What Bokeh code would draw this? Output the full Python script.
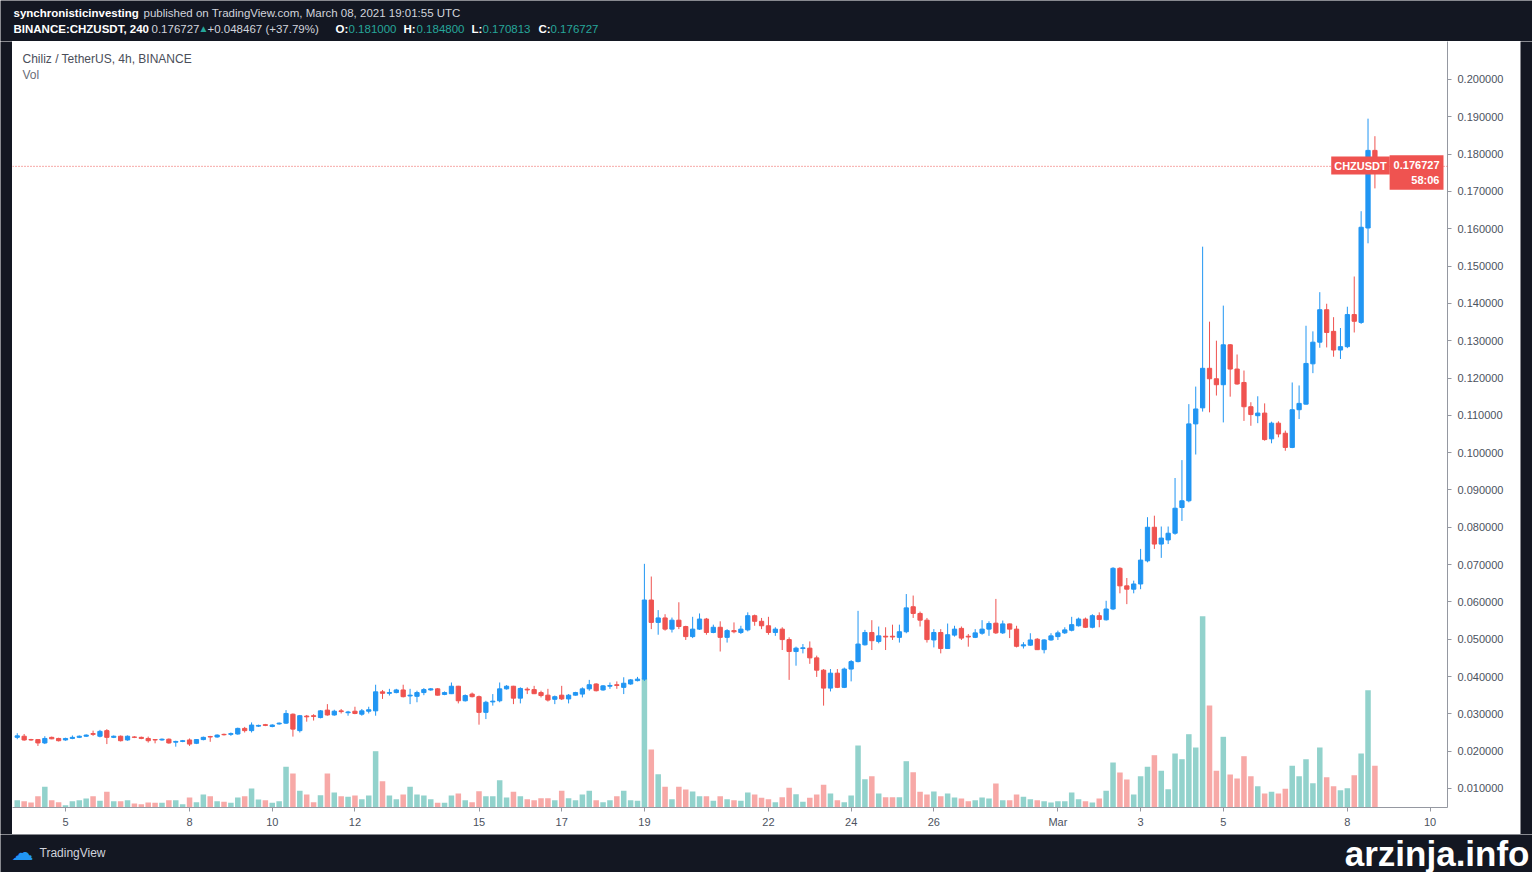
import pandas as pd
from bokeh.plotting import figure
from bokeh.layouts import column, row
from bokeh.models import ColumnDataSource, Range1d, FixedTicker, NumeralTickFormatter, Span, Label
from bokeh.core.properties import value
from bokeh.embed import file_html
from bokeh.resources import INLINE

# ---------------- data (CHZUSDT, 4h candles) ----------------
first_bar = "2021-02-03 20:00"

opens = [0.0237, 0.0240, 0.0231, 0.0231, 0.0222, 0.0237, 0.0234, 0.0230, 0.0234, 0.0237,
         0.0240, 0.0247, 0.0240, 0.0255, 0.0237, 0.0240, 0.0230, 0.0238, 0.0237, 0.0234,
         0.0231, 0.0230, 0.0232, 0.0224, 0.0226, 0.0230, 0.0221, 0.0231, 0.0239, 0.0238,
         0.0245, 0.0245, 0.0246, 0.0261, 0.0255, 0.0267, 0.0271, 0.0266, 0.0273, 0.0275,
         0.0299, 0.0255, 0.0294, 0.0295, 0.0290, 0.0310, 0.0297, 0.0308, 0.0303, 0.0307,
         0.0299, 0.0307, 0.0308, 0.0359, 0.0355, 0.0357, 0.0364, 0.0348, 0.0347, 0.0357,
         0.0364, 0.0367, 0.0352, 0.0354, 0.0374, 0.0335, 0.0353, 0.0346, 0.0304, 0.0332,
         0.0335, 0.0367, 0.0374, 0.0342, 0.0366, 0.0365, 0.0357, 0.0350, 0.0339, 0.0350,
         0.0340, 0.0350, 0.0353, 0.0367, 0.0380, 0.0364, 0.0374, 0.0378, 0.0371, 0.0380,
         0.0389, 0.0393, 0.0605, 0.0545, 0.0557, 0.0527, 0.0551, 0.0534, 0.0507, 0.0527,
         0.0554, 0.0518, 0.0532, 0.0505, 0.0523, 0.0518, 0.0525, 0.0563, 0.0548, 0.0536,
         0.0518, 0.0527, 0.0499, 0.0467, 0.0475, 0.0476, 0.0450, 0.0417, 0.0369, 0.0409,
         0.0371, 0.0420, 0.0440, 0.0485, 0.0518, 0.0494, 0.0508, 0.0508, 0.0505, 0.0520,
         0.0587, 0.0569, 0.0551, 0.0498, 0.0518, 0.0475, 0.0511, 0.0529, 0.0508, 0.0505,
         0.0516, 0.0527, 0.0543, 0.0517, 0.0541, 0.0527, 0.0482, 0.0484, 0.0500, 0.0472,
         0.0498, 0.0507, 0.0517, 0.0524, 0.0536, 0.0554, 0.0532, 0.0563, 0.0552, 0.0581,
         0.0690, 0.0643, 0.0634, 0.0648, 0.0710, 0.0800, 0.0755, 0.0766, 0.0784, 0.0853,
         0.0871, 0.1077, 0.1120, 0.1226, 0.1198, 0.1182, 0.1289, 0.1224, 0.1188, 0.1123,
         0.1099, 0.1106, 0.1037, 0.1079, 0.1052, 0.1014, 0.1115, 0.1130, 0.1238, 0.1296,
         0.1383, 0.1325, 0.1275, 0.1284, 0.1370, 0.1349, 0.1602, 0.181000]

highs = [0.0248, 0.0246, 0.0233, 0.0232, 0.0240, 0.0239, 0.0236, 0.0236, 0.0242, 0.0242,
         0.0245, 0.0255, 0.0257, 0.0259, 0.0242, 0.0242, 0.0242, 0.0240, 0.0239, 0.0239,
         0.0232, 0.0234, 0.0234, 0.0228, 0.0230, 0.0234, 0.0232, 0.0239, 0.0241, 0.0245,
         0.0247, 0.0250, 0.0263, 0.0265, 0.0277, 0.0271, 0.0273, 0.0272, 0.0277, 0.0310,
         0.0301, 0.0297, 0.0297, 0.0299, 0.0310, 0.0326, 0.0311, 0.0313, 0.0308, 0.0319,
         0.0313, 0.0319, 0.0378, 0.0364, 0.0367, 0.0367, 0.0378, 0.0367, 0.0362, 0.0369,
         0.0369, 0.0369, 0.0360, 0.0384, 0.0375, 0.0352, 0.0357, 0.0349, 0.0335, 0.0353,
         0.0384, 0.0377, 0.0375, 0.0371, 0.0371, 0.0375, 0.0362, 0.0367, 0.0349, 0.0375,
         0.0353, 0.0359, 0.0371, 0.0391, 0.0382, 0.0377, 0.0384, 0.0387, 0.0398, 0.0393,
         0.0399, 0.0702, 0.0668, 0.0578, 0.0567, 0.0558, 0.0599, 0.0536, 0.0560, 0.0569,
         0.0557, 0.0539, 0.0548, 0.0527, 0.0545, 0.0536, 0.0572, 0.0566, 0.0557, 0.0560,
         0.0532, 0.0532, 0.0505, 0.0480, 0.0487, 0.0494, 0.0456, 0.0420, 0.0420, 0.0420,
         0.0424, 0.0444, 0.0576, 0.0525, 0.0551, 0.0534, 0.0532, 0.0539, 0.0539, 0.0621,
         0.0617, 0.0574, 0.0557, 0.0527, 0.0527, 0.0542, 0.0536, 0.0534, 0.0514, 0.0527,
         0.0551, 0.0548, 0.0608, 0.0550, 0.0542, 0.0536, 0.0492, 0.0516, 0.0503, 0.0500,
         0.0516, 0.0523, 0.0532, 0.0560, 0.0558, 0.0558, 0.0567, 0.0572, 0.0603, 0.0693,
         0.0693, 0.0664, 0.0657, 0.0742, 0.0827, 0.0831, 0.0802, 0.0802, 0.0932, 0.0980,
         0.1130, 0.1177, 0.1552, 0.1351, 0.1300, 0.1394, 0.1291, 0.1263, 0.1220, 0.1135,
         0.1151, 0.1132, 0.1083, 0.1084, 0.1059, 0.1188, 0.1180, 0.1340, 0.1325, 0.1430,
         0.1399, 0.1363, 0.1334, 0.1391, 0.1472, 0.1647, 0.1895, 0.184800]

lows = [0.0232, 0.0228, 0.0228, 0.0214, 0.0219, 0.0232, 0.0226, 0.0228, 0.0232, 0.0235,
        0.0238, 0.0241, 0.0237, 0.0219, 0.0235, 0.0226, 0.0228, 0.0235, 0.0232, 0.0223,
        0.0221, 0.0228, 0.0220, 0.0212, 0.0224, 0.0214, 0.0219, 0.0229, 0.0225, 0.0236,
        0.0242, 0.0241, 0.0244, 0.0250, 0.0250, 0.0265, 0.0267, 0.0264, 0.0271, 0.0273,
        0.0239, 0.0250, 0.0279, 0.0282, 0.0288, 0.0295, 0.0295, 0.0301, 0.0295, 0.0299,
        0.0295, 0.0301, 0.0295, 0.0340, 0.0349, 0.0355, 0.0344, 0.0326, 0.0331, 0.0350,
        0.0362, 0.0349, 0.0350, 0.0353, 0.0328, 0.0333, 0.0344, 0.0271, 0.0286, 0.0322,
        0.0331, 0.0365, 0.0326, 0.0328, 0.0353, 0.0353, 0.0344, 0.0333, 0.0326, 0.0337,
        0.0328, 0.0349, 0.0344, 0.0362, 0.0360, 0.0362, 0.0367, 0.0367, 0.0353, 0.0378,
        0.0387, 0.0388, 0.0527, 0.0512, 0.0523, 0.0518, 0.0527, 0.0498, 0.0503, 0.0525,
        0.0512, 0.0516, 0.0467, 0.0491, 0.0516, 0.0514, 0.0521, 0.0536, 0.0527, 0.0512,
        0.0509, 0.0471, 0.0391, 0.0429, 0.0462, 0.0434, 0.0399, 0.0322, 0.0360, 0.0369,
        0.0369, 0.0387, 0.0438, 0.0483, 0.0471, 0.0489, 0.0471, 0.0498, 0.0491, 0.0516,
        0.0557, 0.0534, 0.0491, 0.0478, 0.0462, 0.0474, 0.0507, 0.0498, 0.0480, 0.0503,
        0.0512, 0.0509, 0.0514, 0.0514, 0.0503, 0.0478, 0.0475, 0.0482, 0.0471, 0.0462,
        0.0496, 0.0498, 0.0514, 0.0521, 0.0534, 0.0530, 0.0529, 0.0532, 0.0550, 0.0578,
        0.0623, 0.0594, 0.0623, 0.0634, 0.0706, 0.0742, 0.0718, 0.0755, 0.0780, 0.0817,
        0.0867, 0.0995, 0.1110, 0.1108, 0.1153, 0.1081, 0.1150, 0.1182, 0.1085, 0.1072,
        0.1079, 0.1032, 0.1025, 0.1041, 0.1005, 0.1012, 0.1090, 0.1129, 0.1213, 0.1281,
        0.1282, 0.1257, 0.1251, 0.1280, 0.1322, 0.1345, 0.1561, 0.170813]

closes = [0.0241, 0.0230, 0.0230, 0.0222, 0.0234, 0.0233, 0.0228, 0.0234, 0.0237, 0.0240,
          0.0243, 0.0245, 0.0253, 0.0237, 0.0240, 0.0228, 0.0240, 0.0237, 0.0234, 0.0228,
          0.0230, 0.0232, 0.0222, 0.0226, 0.0228, 0.0219, 0.0231, 0.0237, 0.0238, 0.0243,
          0.0244, 0.0247, 0.0261, 0.0255, 0.0270, 0.0269, 0.0269, 0.0270, 0.0275, 0.0301,
          0.0259, 0.0295, 0.0292, 0.0293, 0.0308, 0.0297, 0.0307, 0.0306, 0.0305, 0.0301,
          0.0308, 0.0311, 0.0359, 0.0355, 0.0357, 0.0364, 0.0346, 0.0350, 0.0357, 0.0365,
          0.0367, 0.0350, 0.0357, 0.0374, 0.0335, 0.0349, 0.0346, 0.0304, 0.0331, 0.0334,
          0.0367, 0.0374, 0.0342, 0.0368, 0.0364, 0.0354, 0.0349, 0.0337, 0.0346, 0.0340,
          0.0350, 0.0357, 0.0367, 0.0378, 0.0362, 0.0375, 0.0376, 0.0376, 0.0382, 0.0391,
          0.0393, 0.0605, 0.0545, 0.0557, 0.0527, 0.0551, 0.0534, 0.0507, 0.0527, 0.0554,
          0.0518, 0.0532, 0.0505, 0.0523, 0.0520, 0.0527, 0.0563, 0.0548, 0.0536, 0.0518,
          0.0527, 0.0499, 0.0467, 0.0476, 0.0477, 0.0450, 0.0417, 0.0369, 0.0409, 0.0371,
          0.0420, 0.0440, 0.0487, 0.0518, 0.0496, 0.0509, 0.0506, 0.0506, 0.0520, 0.0584,
          0.0569, 0.0551, 0.0499, 0.0518, 0.0475, 0.0512, 0.0527, 0.0503, 0.0506, 0.0517,
          0.0527, 0.0542, 0.0517, 0.0541, 0.0527, 0.0481, 0.0485, 0.0498, 0.0472, 0.0498,
          0.0509, 0.0517, 0.0525, 0.0539, 0.0554, 0.0532, 0.0563, 0.0553, 0.0581, 0.0690,
          0.0643, 0.0634, 0.0648, 0.0712, 0.0800, 0.0755, 0.0771, 0.0784, 0.0851, 0.0871,
          0.1077, 0.1117, 0.1226, 0.1198, 0.1182, 0.1289, 0.1224, 0.1184, 0.1123, 0.1102,
          0.1106, 0.1035, 0.1079, 0.1050, 0.1014, 0.1115, 0.1132, 0.1239, 0.1296, 0.1383,
          0.1322, 0.1275, 0.1284, 0.1370, 0.1352, 0.1604, 0.1810, 0.176727]

# volume, millions of CHZ per 4h bar (relative heights)
volumes = [7.3, 6.3, 5.0, 11.3, 20.7, 7.3, 5.3, 2.3, 6.3, 7.3,
           9.0, 11.3, 6.7, 15.7, 6.3, 6.3, 7.3, 4.0, 3.3, 5.0,
           4.7, 4.7, 7.3, 7.3, 3.3, 10.0, 5.3, 13.0, 11.3, 6.3,
           5.7, 4.7, 10.0, 11.3, 19.0, 8.0, 7.3, 4.7, 6.3, 40.7,
           34.0, 16.7, 13.0, 5.3, 12.3, 34.0, 15.0, 11.3, 10.7, 12.0,
           8.3, 12.0, 56.3, 26.3, 12.0, 8.3, 13.0, 20.7, 13.0, 12.0,
           8.3, 4.7, 4.7, 12.0, 14.0, 7.3, 5.3, 16.3, 11.3, 11.3,
           27.3, 10.0, 15.7, 11.3, 8.3, 7.3, 9.3, 9.3, 7.3, 16.7,
           9.3, 7.3, 13.0, 16.7, 7.3, 5.3, 7.3, 11.3, 16.7, 7.3,
           6.7, 129.0, 58.0, 33.3, 20.7, 8.3, 20.7, 18.0, 16.0, 11.3,
           11.3, 6.7, 11.3, 8.3, 7.3, 6.7, 15.0, 13.0, 9.7, 8.3,
           5.3, 10.3, 19.7, 13.3, 5.7, 9.7, 13.0, 22.7, 14.0, 7.3,
           5.3, 12.0, 62.0, 28.3, 31.3, 14.0, 10.3, 10.3, 10.3, 46.3,
           35.3, 15.7, 13.0, 16.0, 11.3, 14.0, 10.0, 9.0, 6.3, 7.3,
           10.0, 9.0, 24.0, 7.3, 7.3, 13.0, 10.7, 8.3, 7.3, 6.3,
           5.0, 6.3, 6.3, 15.0, 8.3, 6.3, 5.0, 9.0, 16.7, 45.0,
           35.0, 28.0, 13.0, 31.3, 40.7, 52.3, 36.7, 18.3, 54.0, 48.3,
           73.3, 60.0, 191.3, 102.0, 36.7, 70.7, 33.0, 29.0, 51.3, 31.3,
           21.3, 14.0, 15.7, 14.0, 18.7, 41.7, 31.3, 48.3, 24.3, 60.0,
           30.3, 21.3, 17.3, 19.3, 32.3, 54.0, 117.3, 41.7]

date_ticks = ["2021-02-05", "2021-02-08", "2021-02-10", "2021-02-12", "2021-02-15",
              "2021-02-17", "2021-02-19", "2021-02-22", "2021-02-24", "2021-02-26",
              "2021-03-01", "2021-03-03", "2021-03-05", "2021-03-08", "2021-03-10"]
date_labels = ["5", "8", "10", "12", "15", "17", "19", "22", "24", "26",
               "Mar", "3", "5", "8", "10"]
price_ticks = [0.01, 0.02, 0.03, 0.04, 0.05, 0.06, 0.07, 0.08, 0.09, 0.10,
               0.11, 0.12, 0.13, 0.14, 0.15, 0.16, 0.17, 0.18, 0.19, 0.20]
last_price = 0.176727

header_parts = [  # (text, kind) kinds: b = bold white, n = normal, t = teal
    ("synchronisticinvesting", "b"),
    ("published on TradingView.com, March 08, 2021 19:01:55 UTC", "n"),
    ("BINANCE:CHZUSDT, 240", "b"), ("0.176727", "n"), ("▲", "t"),
    ("+0.048467 (+37.79%)", "n"),
    ("O:", "b"), ("0.181000", "t"), ("H:", "b"), ("0.184800", "t"),
    ("L:", "b"), ("0.170813", "t"), ("C:", "b"), ("0.176727", "t"),
]

# ---------------- styling ----------------
UP, DOWN = "#2196f3", "#ef5350"
VOL_UP, VOL_DOWN = "#92d2cc", "#f7a9a7"
DARK = "#131722"
LIGHT = "#d1d4dc"
TEAL = "#26a69a"
FONT = "Liberation Sans"
PAGE_W = 1532
HEAD_H, MAIN_H, FOOT_H = 41, 793, 38
LEFT_W, RIGHT_W = 12, 12
MAIN_W = PAGE_W - LEFT_W - RIGHT_W


def no_align(fig):
    try:
        fig.frame_align = False
    except Exception:
        pass


def band(width, height):
    f = figure(width=width, height=height, x_range=Range1d(0, width),
               y_range=Range1d(height, 0), output_backend="svg", toolbar_location=None,
               x_axis_type=None, y_axis_type=None, min_border=0,
               background_fill_color=DARK, border_fill_color=DARK, outline_line_color=None)
    f.grid.visible = False
    no_align(f)
    return f


# ---------------- header ----------------
head = band(PAGE_W, HEAD_H)
head_x = [13, 143, 13, 151, 198, 207, 335, 348, 403, 416, 471, 482, 538, 550]
head_y = [12, 12, 28, 28, 28, 28, 28, 28, 28, 28, 28, 28, 28, 28]
for (txt, kind), hx, hy in zip(header_parts, head_x, head_y):
    head.text(x=[hx], y=[hy], text=[txt], text_font=value(FONT),
              text_font_size="10px" if txt == "▲" else "11.5px",
              text_font_style="bold" if kind == "b" else "normal",
              text_color={"b": "#ffffff", "n": LIGHT, "t": TEAL}[kind],
              text_baseline="middle", text_align="left")

# ---------------- main chart ----------------
times = pd.date_range(first_bar, periods=len(closes), freq="4h")
up = [c >= o for o, c in zip(opens, closes)]
src = ColumnDataSource(dict(
    t=times, o=opens, h=highs, l=lows, c=closes, v=volumes,
    top=[max(o, c) for o, c in zip(opens, closes)],
    bot=[min(o, c) for o, c in zip(opens, closes)],
    col=[UP if u else DOWN for u in up],
    vcol=[VOL_UP if u else VOL_DOWN for u in up],
))

ref = pd.Timestamp("2021-02-05")
px_per_day = 41.35
x_start = ref - pd.Timedelta(days=53 / px_per_day)
x_end = ref + pd.Timedelta(days=1382 / px_per_day)

p = figure(width=MAIN_W, height=MAIN_H, x_axis_type="datetime", y_axis_location="right",
           x_range=Range1d(x_start, x_end), y_range=Range1d(0.0049, 0.21018),
           output_backend="svg", toolbar_location=None,
           min_border_left=0, min_border_right=73, min_border_top=0, min_border_bottom=27,
           background_fill_color="white", border_fill_color="white", outline_line_color=None)
no_align(p)
p.extra_y_ranges = {"vol": Range1d(0, 766)}
p.grid.visible = False

bar_ms = 4 * 3600 * 1000
p.vbar(x="t", top="v", bottom=0, width=0.8 * bar_ms, fill_color="vcol", line_color=None,
       y_range_name="vol", source=src)
p.segment(x0="t", y0="h", x1="t", y1="l", line_color="col", line_width=1, source=src)
p.vbar(x="t", top="top", bottom="bot", width=0.62 * bar_ms, fill_color="col",
       line_color="col", line_width=1, source=src)

p.add_layout(Span(location=last_price, dimension="width", line_color=DOWN,
                  line_dash="1 2", line_width=1))

xa = p.xaxis[0]
tick_ms = [int(pd.Timestamp(d).value // 10**6) for d in date_ticks]
xa.ticker = FixedTicker(ticks=tick_ms)
xa.major_label_overrides = {k: s for k, s in zip(tick_ms, date_labels)}
ya = p.yaxis[0]
ya.ticker = FixedTicker(ticks=price_ticks)
ya.formatter = NumeralTickFormatter(format="0.000000")
for ax in (xa, ya):
    ax.axis_line_color = "#9598a1"
    ax.major_tick_line_color = "#9598a1"
    ax.major_tick_out = 4
    ax.major_tick_in = 0
    ax.minor_tick_line_color = None
    ax.major_label_text_font = FONT
    ax.major_label_text_font_size = "11px"
    ax.major_label_text_color = "#4c525e"
xa.major_label_standoff = 4
ya.major_label_standoff = 6


def lab(x, y, text, size="12px", color="#4a4e59", bold=False, align="left", bg=None, pad=None):
    kw = dict(x=x - LEFT_W, y=y - HEAD_H, x_units="canvas", y_units="canvas", text=text,
              text_font=FONT, text_font_size=size, text_color=color,
              text_font_style="bold" if bold else "normal",
              text_align=align, text_baseline="middle")
    if bg is not None:
        kw.update(background_fill_color=bg, background_fill_alpha=1.0)
    lb = Label(**kw)
    if pad is not None:
        try:
            lb.padding = pad
        except Exception:
            pass
    p.add_layout(lb)


lab(22, 58, "Chiliz / TetherUS, 4h, BINANCE")
lab(22, 74, "Vol", color="#6a6d78")
lab(1360, 165, "CHZUSDT", size="11px", color="#ffffff", bold=True, align="center", bg=DOWN, pad=3)
lab(1443, 172, "0.176727\n58:06", size="11px", color="#ffffff", bold=True, align="right",
    bg=DOWN, pad=4)

left_strip = band(LEFT_W, MAIN_H)
right_strip = band(RIGHT_W, MAIN_H)

# ---------------- footer ----------------
foot = band(PAGE_W, FOOT_H)
foot.text(x=[11], y=[18], text=["☁"], text_font=value("DejaVu Sans"), text_font_size="22px",
          text_color="#2196f3", text_baseline="middle")
foot.text(x=[39], y=[18], text=["TradingView"], text_font=value(FONT), text_font_size="12px",
          text_color=LIGHT, text_baseline="middle")
foot.text(x=[1529], y=[19], text=["arzinja.info"], text_font=value(FONT), text_font_size="35px",
          text_font_style="bold", text_color="#ffffff", text_align="right",
          text_baseline="middle")

page = column(head, row(left_strip, p, right_strip, spacing=0), foot, spacing=0)
open("out.html", "w").write(file_html(page, INLINE))
